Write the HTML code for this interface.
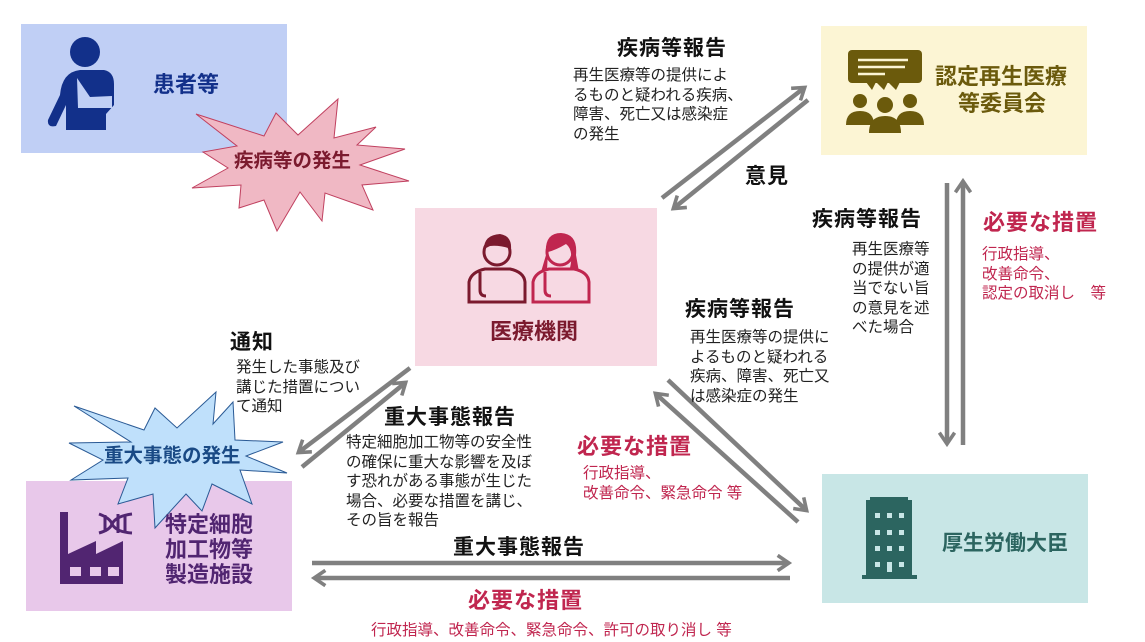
<!DOCTYPE html>
<html><head><meta charset="utf-8"><style>
body{margin:0;width:1145px;height:642px;position:relative;background:#fff;overflow:hidden;font-family:"Liberation Sans","Noto Sans CJK JP",sans-serif;}
.a{position:absolute;white-space:nowrap;}
.h{font-weight:bold;font-size:21px;letter-spacing:1px;color:#111;line-height:24px;}
.b{font-size:15.5px;line-height:19.5px;color:#222;}
.r{color:#c0264f;}
.box{position:absolute;}
.t{position:absolute;font-weight:bold;font-size:22px;white-space:nowrap;line-height:26px;}
</style></head><body>
<div class="box" style="left:21px;top:24px;width:266px;height:129px;background:#c0cff5"></div>
<div class="box" style="left:415px;top:208px;width:242px;height:158px;background:#f7d9e3"></div>
<div class="box" style="left:821px;top:26px;width:266px;height:129px;background:#fcf5d4"></div>
<div class="box" style="left:822px;top:474px;width:266px;height:129px;background:#c8e6e6"></div>
<div class="box" style="left:26px;top:481px;width:266px;height:130px;background:#e8c8ea"></div>

<svg class="a" style="left:0;top:0" width="1145" height="642">
<defs><marker id="m" markerWidth="4" markerHeight="4" refX="2.6" refY="2" orient="auto" markerUnits="strokeWidth"><path d="M0.3,0.3 L2.8,2 L0.3,3.7" fill="none" stroke="#808080" stroke-width="0.8"/></marker></defs>
<g stroke="#808080" stroke-width="4.5" fill="none">
<line x1="662" y1="198" x2="804" y2="88" marker-end="url(#m)"/>
<line x1="808" y1="100" x2="674" y2="208" marker-end="url(#m)"/>
<line x1="947" y1="183" x2="947" y2="443" marker-end="url(#m)"/>
<line x1="963" y1="445" x2="963" y2="182" marker-end="url(#m)"/>
<line x1="668" y1="380" x2="806" y2="510" marker-end="url(#m)"/>
<line x1="798" y1="522" x2="656" y2="394" marker-end="url(#m)"/>
<line x1="410" y1="368" x2="299" y2="452" marker-end="url(#m)"/>
<line x1="302" y1="467" x2="405" y2="383" marker-end="url(#m)"/>
<line x1="312" y1="563" x2="788" y2="563" marker-end="url(#m)"/>
<line x1="790" y1="578" x2="315" y2="578" marker-end="url(#m)"/>
</g>
<polygon points="196,114 264,136 276,113 298,135 338,99 334,138 376,127 357,145 405,149 360,165 409,181 362,185 373,210 325,193 322,221 300,192 277,231 264,200 239,208 241,185 192,188 228,168 203,152 237,146" fill="#f0b8c4" stroke="#c0405f" stroke-width="1"/>
<polygon points="74,406 144,430 155,408 177,428 216,392 213,424 233,402 235,440 283,442 246,456 287,473 240,470 252,504 212,484 202,511 186,494 155,528 153,494 118,504 128,478 71,480 103,460 69,443 131,442" fill="#bfe0fb" stroke="#2a5a95" stroke-width="1"/>
<g fill="#12308a"><circle cx="85" cy="52" r="15"/><path d="M60,95 Q62,72 80,70 L104,70 Q114,72 114,84 L114,105 L106,114 L106,130 L66,130 L66,105 L56,126 Q47,128 48,120 Z"/><path d="M77,78 L90,97 L112,96 L112,108 L78,108 Z" fill="#c0cff5"/></g>
<g fill="none" stroke="#7b1a2e" stroke-width="3"><circle cx="497" cy="252" r="13"/><path d="M469,302 L469,282 Q471,272 485,269 L510,269 Q524,272 525,282 L525,302 Z"/><path d="M480,272 L480,290 Q480,296 486,296"/></g>
<path d="M484,249 Q484,235 500,234 Q512,236 511,249 Q500,245 490,246 Z" fill="#7b1a2e"/>
<g fill="none" stroke="#c0264f" stroke-width="3"><circle cx="560" cy="252" r="13"/><path d="M545,302 L545,282 Q547,272 561,269 L586,269 Q600,272 601,282 L601,302 Z" transform="translate(-12,0)"/><path d="M545,272 L545,290 Q545,296 551,296"/></g>
<path d="M546,255 Q544,233 561,233 Q578,234 576,255 L579,272 L570,268 Q574,250 566,244 Q556,250 548,252 L547,270 L541,272 Z" fill="#c0264f"/>
<g fill="#6b5a0c"><rect x="848" y="50" width="74" height="33" rx="4"/><polygon points="866,82 872,90 876,82 884,90 888,82 896,90 900,82"/><circle cx="860" cy="101" r="7"/><circle cx="885" cy="105" r="8"/><circle cx="910" cy="101" r="7"/><path d="M846,125 Q846,111 860,111 Q874,111 874,125Z"/><path d="M896,125 Q896,111 910,111 Q924,111 924,125Z"/><path d="M869,133 Q869,116 885,116 Q901,116 901,133Z"/></g>
<g stroke="#fcf5d4" stroke-width="2.5"><line x1="858" y1="60" x2="908" y2="60"/><line x1="858" y1="67" x2="905" y2="67"/><line x1="858" y1="74" x2="885" y2="74"/></g>
<g fill="#2c6560"><rect x="866" y="500" width="46" height="78"/><rect x="870" y="497" width="38" height="5"/><rect x="862" y="575" width="55" height="4"/></g>
<g fill="#c8e6e6"><rect x="875" y="513" width="5" height="5"/><rect x="887" y="513" width="5" height="5"/><rect x="899" y="513" width="5" height="5"/><rect x="875" y="530" width="5" height="5"/><rect x="887" y="530" width="5" height="5"/><rect x="899" y="530" width="5" height="5"/><rect x="875" y="546" width="5" height="5"/><rect x="887" y="546" width="5" height="5"/><rect x="899" y="546" width="5" height="5"/><rect x="875" y="562" width="5" height="5"/><rect x="887" y="562" width="5" height="10"/><rect x="899" y="562" width="5" height="5"/></g>
<g fill="#512571"><path d="M60,584 L60,512 L68,512 L68,554 L96,541 L96,554 L123,541 L123,584Z"/></g>
<g fill="#e8c8ea"><rect x="70" y="567" width="11" height="9"/><rect x="90" y="567" width="11" height="9"/><rect x="108" y="567" width="11" height="9"/></g>
<g stroke="#512571" stroke-width="3" fill="none"><path d="M99,514 Q110,518 112,524 Q116,532 132,533"/><path d="M99,533 Q110,530 112,524 Q116,516 132,514"/><path d="M118,514 L118,533 M105,515 L105,532 M125,515 L125,532"/></g>
</svg>

<div class="t" style="left:153px;top:72px;color:#12308a">患者等</div>
<div class="t" style="left:234px;top:148px;color:#7b1a2e;font-size:19.5px">疾病等の発生</div>
<div class="t" style="left:104px;top:443px;color:#1a4a85;font-size:19.5px">重大事態の発生</div>
<div class="t" style="left:490px;top:319px;color:#7b1a2e">医療機関</div>
<div class="t" style="left:935px;top:64px;color:#6b5a0c">認定再生医療</div>
<div class="t" style="left:958px;top:91px;color:#6b5a0c">等委員会</div>
<div class="t" style="left:942px;top:531px;color:#2c6560;font-size:21px">厚生労働大臣</div>
<div class="t" style="left:165px;top:512px;color:#512571;line-height:25px">特定細胞<br>加工物等<br>製造施設</div>

<div class="a h" style="left:617px;top:37px">疾病等報告</div>
<div class="a b" style="left:573px;top:66px">再生医療等の提供によ<br>るものと疑われる疾病、<br>障害、死亡又は感染症<br>の発生</div>
<div class="a h" style="left:745px;top:165px">意見</div>
<div class="a h" style="left:812px;top:208px">疾病等報告</div>
<div class="a b" style="left:852px;top:240px">再生医療等<br>の提供が適<br>当でない旨<br>の意見を述<br>べた場合</div>
<div class="a h r" style="left:983px;top:211px;font-size:22px">必要な措置</div>
<div class="a b r" style="left:982px;top:245px">行政指導、<br>改善命令、<br>認定の取消し　等</div>
<div class="a h" style="left:685px;top:298px">疾病等報告</div>
<div class="a b" style="left:690px;top:328px">再生医療等の提供に<br>よるものと疑われる<br>疾病、障害、死亡又<br>は感染症の発生</div>
<div class="a h" style="left:230px;top:331px">通知</div>
<div class="a b" style="left:236px;top:358px">発生した事態及び<br>講じた措置につい<br>て通知</div>
<div class="a h" style="left:384px;top:406px">重大事態報告</div>
<div class="a b" style="left:346px;top:433px">特定細胞加工物等の安全性<br>の確保に重大な影響を及ぼ<br>す恐れがある事態が生じた<br>場合、必要な措置を講じ、<br>その旨を報告</div>
<div class="a h r" style="left:577px;top:435px;font-size:22px">必要な措置</div>
<div class="a b r" style="left:583px;top:464px">行政指導、<br>改善命令、緊急命令 等</div>
<div class="a h" style="left:453px;top:536px">重大事態報告</div>
<div class="a h r" style="left:468px;top:589px;font-size:22px">必要な措置</div>
<div class="a b r" style="left:371px;top:621px">行政指導、改善命令、緊急命令、許可の取り消し 等</div>
</body></html>
